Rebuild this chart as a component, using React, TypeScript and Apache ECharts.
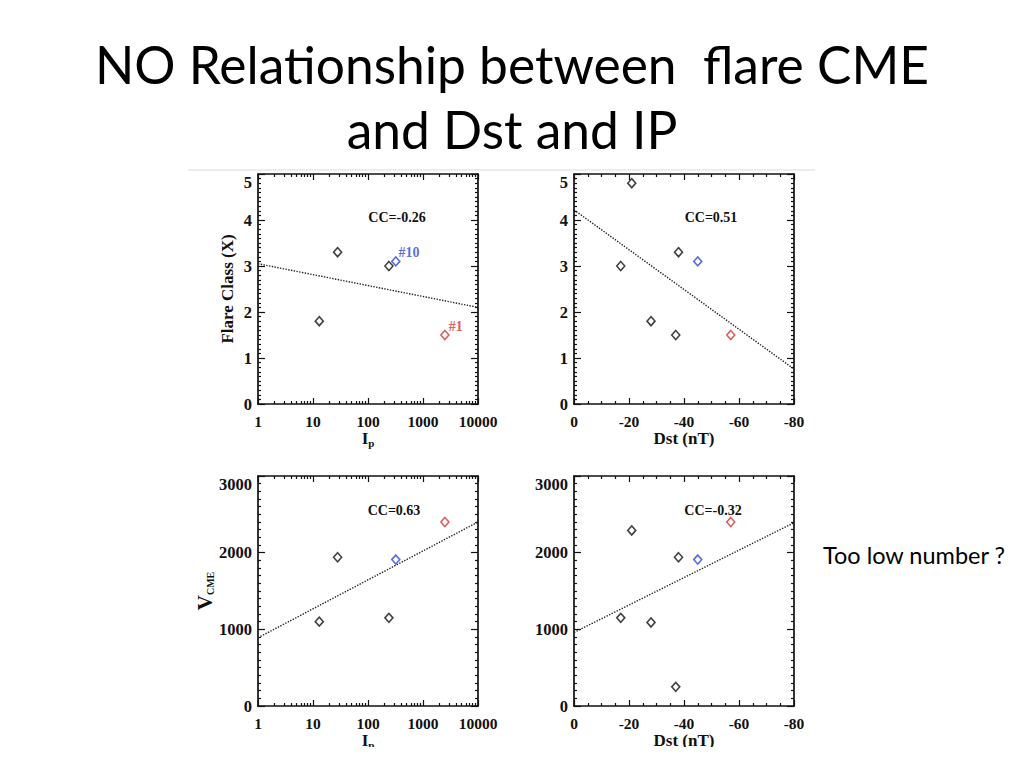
import React, { useEffect, useRef } from "react";
import * as echarts from "echarts";

// ---- data ----
// events with an Ip value (black ones), plus the highlighted #10 (blue) and #1 (red)
const ipBlack = [13, 28, 240];
const ipBlackFlare = [1.8, 3.3, 3.0];
const ipBlackVcme = [1100, 1940, 1150];
const ipBlue = [320];
const ipRed = [2500];

// events with a Dst value
const dstBlack = [-21, -17, -38, -28, -37];
const dstBlackFlare = [4.8, 3.0, 3.3, 1.8, 1.5];
const dstBlackVcme = [2290, 1150, 1940, 1090, 250];
const dstBlue = [-45];
const dstRed = [-57];

const blueFlare = [3.1];
const blueVcme = [1910];
const redFlare = [1.5];
const redVcme = [2400];

// linear fit end points
const fitIpFlareX = [1, 10000];
const fitIpFlareY = [3.05, 2.1];
const fitDstFlareX = [0, -80];
const fitDstFlareY = [4.22, 0.76];
const fitIpVcmeX = [1, 10000];
const fitIpVcmeY = [890, 2400];
const fitDstVcmeX = [0, -80];
const fitDstVcmeY = [960, 2390];

const ccLabels = ["CC=-0.26", "CC=0.51", "CC=0.63", "CC=-0.32"];
const minorLogTickValues = [
  2, 3, 4, 5, 6, 7, 8, 9, 20, 30, 40, 50, 60, 70, 80, 90, 200, 300, 400, 500,
  600, 700, 800, 900, 2000, 3000, 4000, 5000, 6000, 7000, 8000, 9000,
];

const SERIF = "'Liberation Serif', 'Times New Roman', serif";
const SANS = "Lato, 'Noto Sans', sans-serif";
const INK = "#111";
const BLUE = "#2f45d8";
const RED = "#d03434";

const zip = (xs: number[], ys: number[]) => xs.map((x, i) => [x, ys[i]]);

const labelStyle = {
  fontFamily: SERIF,
  fontWeight: "bold" as const,
  fontSize: 15.5,
  color: INK,
};
const lineStyle = { color: INK, width: 1.7 };
const tickStyle = { color: INK, width: 1.2 };
const axisLine = { show: true, onZero: false, lineStyle };

const ipName = {
  name: "{a|I}{b|p}",
  nameLocation: "middle" as const,
  nameGap: 25,
  nameTextStyle: {
    rich: {
      a: { fontFamily: SERIF, fontWeight: "bold", fontSize: 17, color: INK },
      b: {
        fontFamily: SERIF,
        fontWeight: "bold",
        fontSize: 11,
        color: INK,
        verticalAlign: "bottom",
        padding: [8, 0, 0, 0],
      },
    },
  },
};
const dstName = {
  name: "Dst (nT)",
  nameLocation: "middle" as const,
  nameGap: 25,
  nameTextStyle: { fontFamily: SERIF, fontWeight: "bold", fontSize: 17, color: INK },
};

function logXAxes(gridIndex: number) {
  const base = {
    type: "log" as const,
    logBase: 10,
    gridIndex,
    min: 1,
    max: 10000,
    axisLine,
    axisTick: { show: true, inside: true, length: 6, lineStyle: tickStyle },
    splitLine: { show: false },
  };
  const minor = {
    type: "value" as const,
    gridIndex,
    min: 0,
    max: 4,
    axisLine: { show: false, onZero: false },
    axisLabel: { show: false },
    splitLine: { show: false },
    axisTick: {
      show: true,
      inside: true,
      length: 3,
      lineStyle: tickStyle,
      customValues: minorLogTickValues.map((v) => Math.log10(v)),
    },
  };
  return [
    {
      ...base,
      position: "bottom",
      axisLabel: {
        ...labelStyle,
        margin: 9,
        formatter: (v: number) => String(Math.round(v)),
      },
      ...ipName,
    },
    { ...base, position: "top", axisLabel: { show: false } },
    { ...minor, position: "bottom" },
    { ...minor, position: "top" },
  ];
}

function dstXAxes(gridIndex: number) {
  const base = {
    type: "value" as const,
    gridIndex,
    min: -80,
    max: 0,
    interval: 20,
    inverse: true,
    axisLine,
    axisTick: { show: true, inside: true, length: 6, lineStyle: tickStyle },
    minorTick: { show: true, splitNumber: 4, length: 3, lineStyle: tickStyle },
    splitLine: { show: false },
    minorSplitLine: { show: false },
  };
  return [
    {
      ...base,
      position: "bottom",
      axisLabel: { ...labelStyle, margin: 9, formatter: (v: number) => String(v) },
      ...dstName,
    },
    { ...base, position: "top", axisLabel: { show: false } },
  ];
}

function yAxes(gridIndex: number, max: number, interval: number, name?: any) {
  const base = {
    type: "value" as const,
    gridIndex,
    min: 0,
    max,
    interval,
    axisLine,
    axisTick: { show: true, inside: true, length: 7, lineStyle: tickStyle },
    minorTick: { show: true, splitNumber: 10, length: 3, lineStyle: tickStyle },
    splitLine: { show: false },
    minorSplitLine: { show: false },
  };
  return [
    {
      ...base,
      position: "left",
      axisLabel: {
        ...labelStyle,
        fontSize: 16.5,
        margin: 6,
        verticalAlignMaxLabel: "top",
        formatter: (v: number) => String(v),
      },
      ...(name || {}),
    },
    { ...base, position: "right", axisLabel: { show: false } },
  ];
}

const flareName = {
  name: "Flare Class (X)",
  nameLocation: "middle",
  nameGap: 22,
  nameRotate: 90,
  nameTextStyle: { fontFamily: SERIF, fontWeight: "bold", fontSize: 17, color: INK },
};
const vcmeName = {
  name: "{a|V}{b|CME}",
  nameLocation: "middle",
  nameGap: 42,
  nameRotate: 90,
  nameTextStyle: {
    rich: {
      a: { fontFamily: SERIF, fontWeight: "bold", fontSize: 21, color: INK },
      b: {
        fontFamily: SERIF,
        fontWeight: "bold",
        fontSize: 10,
        color: INK,
        verticalAlign: "bottom",
        padding: [10, 0, 0, 0],
      },
    },
  },
};

function scatter(x: number, y: number, data: number[][], color: string, label?: any) {
  return {
    type: "scatter",
    xAxisIndex: x,
    yAxisIndex: y,
    data,
    symbol: "diamond",
    symbolSize: [8, 9],
    itemStyle: { color: "#fff", borderColor: color, borderWidth: 1.6 },
    label: label || { show: false },
    z: 5,
  };
}
function fit(x: number, y: number, data: number[][]) {
  return {
    type: "line",
    xAxisIndex: x,
    yAxisIndex: y,
    data,
    symbol: "none",
    lineStyle: { type: "dotted", width: 1.4, color: "#222" },
    z: 3,
  };
}

const tagLabel = (text: string, color: string, offset: number[]) => ({
  show: true,
  position: "right",
  offset,
  formatter: text,
  fontFamily: SERIF,
  fontWeight: "bold",
  fontSize: 14,
  color,
  textBorderWidth: 0,
});

export default function App() {
  const ref = useRef<HTMLDivElement>(null);
  useEffect(() => {
    if (!ref.current) return;
    const chart = echarts.init(ref.current, undefined, { renderer: "svg" });

    // x axes: grid0 -> 0..3 (log), grid1 -> 4,5 (dst), grid2 -> 6..9 (log), grid3 -> 10,11 (dst)
    // y axes: grid0 -> 0,1, grid1 -> 2,3, grid2 -> 4,5, grid3 -> 6,7
    const option: any = {
      animation: false,
      backgroundColor: "#fff",
      grid: [
        { left: 258, top: 174, width: 220, height: 230 },
        { left: 574, top: 174, width: 220, height: 230 },
        { left: 258, top: 476, width: 220, height: 230 },
        { left: 574, top: 476, width: 220, height: 230 },
      ],
      xAxis: [...logXAxes(0), ...dstXAxes(1), ...logXAxes(2), ...dstXAxes(3)],
      yAxis: [
        ...yAxes(0, 5, 1, flareName),
        ...yAxes(1, 5, 1),
        ...yAxes(2, 3000, 1000, vcmeName),
        ...yAxes(3, 3000, 1000),
      ],
      series: [
        // panel 1: flare vs Ip
        fit(0, 0, zip(fitIpFlareX, fitIpFlareY)),
        scatter(0, 0, zip(ipBlack, ipBlackFlare), INK),
        scatter(0, 0, zip(ipBlue, blueFlare), BLUE, tagLabel("#10", BLUE, [-7, -9])),
        scatter(0, 0, zip(ipRed, redFlare), RED, tagLabel("#1", RED, [-6, -9])),
        // panel 2: flare vs Dst
        fit(4, 2, zip(fitDstFlareX, fitDstFlareY)),
        scatter(4, 2, zip(dstBlack, dstBlackFlare), INK),
        scatter(4, 2, zip(dstBlue, blueFlare), BLUE),
        scatter(4, 2, zip(dstRed, redFlare), RED),
        // panel 3: Vcme vs Ip
        fit(6, 4, zip(fitIpVcmeX, fitIpVcmeY)),
        scatter(6, 4, zip(ipBlack, ipBlackVcme), INK),
        scatter(6, 4, zip(ipBlue, blueVcme), BLUE),
        scatter(6, 4, zip(ipRed, redVcme), RED),
        // panel 4: Vcme vs Dst
        fit(10, 6, zip(fitDstVcmeX, fitDstVcmeY)),
        scatter(10, 6, zip(dstBlack, dstBlackVcme), INK),
        scatter(10, 6, zip(dstBlue, blueVcme), BLUE),
        scatter(10, 6, zip(dstRed, redVcme), RED),
      ],
      graphic: [
        {
          type: "text",
          x: 512,
          y: 64,
          style: {
            text: "NO Relationship between  flare CME",
            font: `51.5px ${SANS}`,
            fill: "#000",
            align: "center",
            verticalAlign: "middle",
          },
        },
        {
          type: "text",
          x: 512,
          y: 129,
          style: {
            text: "and Dst and IP",
            font: `51.5px ${SANS}`,
            fill: "#000",
            align: "center",
            verticalAlign: "middle",
          },
        },
        {
          type: "line",
          shape: { x1: 188, y1: 170, x2: 815, y2: 170 },
          style: { stroke: "#d9d9d9", lineWidth: 1 },
        },
        {
          type: "text",
          x: 823,
          y: 555,
          style: {
            text: "Too low number ?",
            font: `23.5px ${SANS}`,
            fill: "#000",
            align: "left",
            verticalAlign: "middle",
          },
        },
        ...[
          [397, 217],
          [711, 217],
          [394, 510],
          [713, 510],
        ].map((p, i) => ({
          type: "text",
          x: p[0],
          y: p[1],
          style: {
            text: ccLabels[i],
            font: `bold 14px ${SERIF}`,
            fill: INK,
            align: "center",
            verticalAlign: "middle",
          },
        })),
        {
          type: "rect",
          shape: { x: 0, y: 747, width: 1024, height: 21 },
          style: { fill: "#fff" },
          z: 100,
        },
      ],
    };
    chart.setOption(option);
    return () => chart.dispose();
  }, []);
  return (
    <div
      ref={ref}
      style={{ position: "absolute", left: 0, top: 0, width: 1024, height: 768 }}
    />
  );
}
